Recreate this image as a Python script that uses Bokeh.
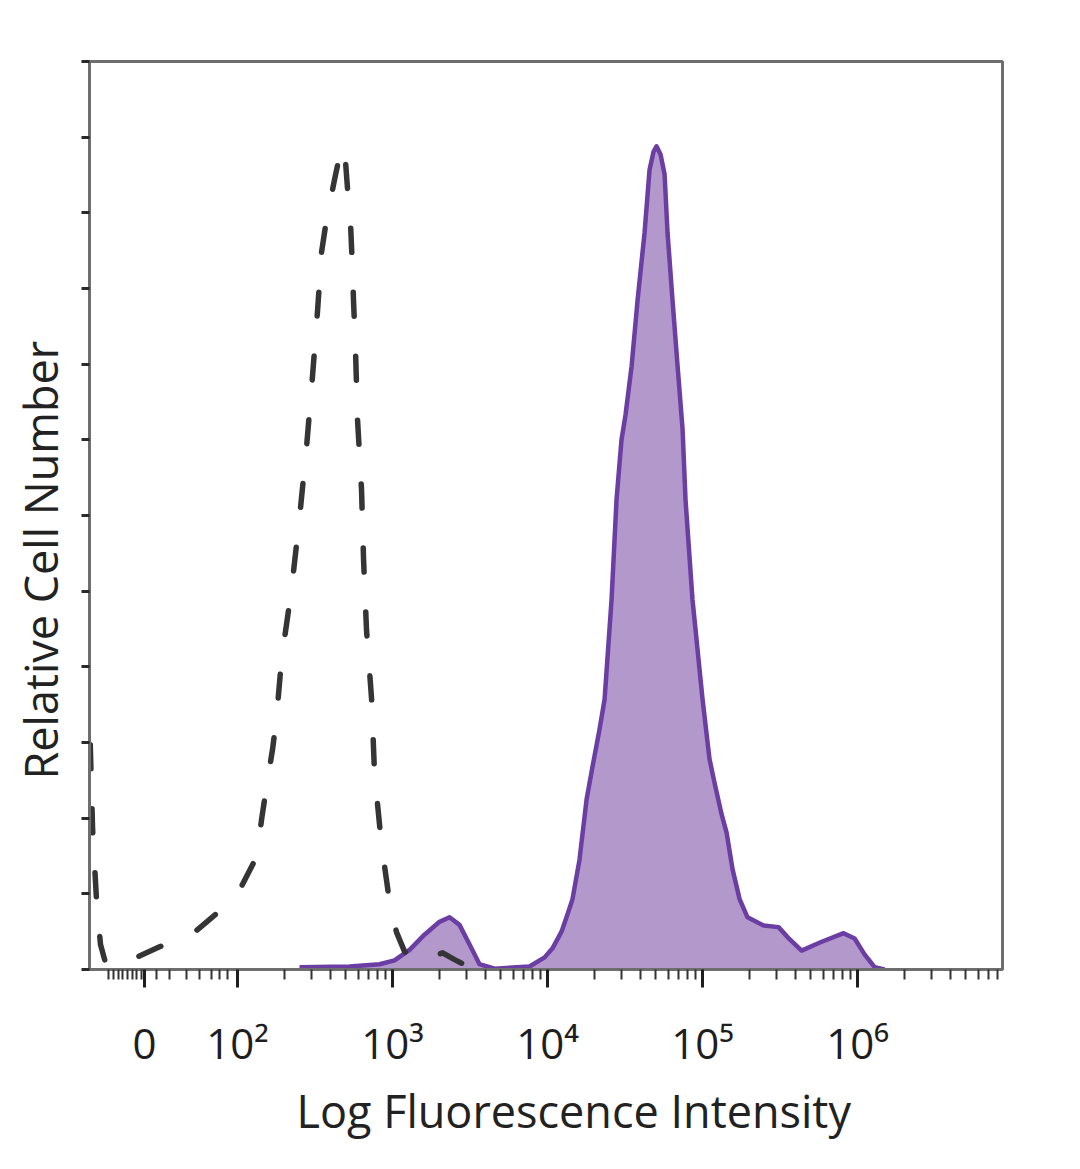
import math
from bokeh.plotting import figure
from bokeh.models import FixedTicker, Range1d, Title
from bokeh.embed import file_html
from bokeh.resources import INLINE

# Display coordinate on x: log10 of intensity (biexponential-like; "0" sits at 1.40)
ctrl_x = [1.05, 1.065, 1.09, 1.116, 1.148, 1.206, 1.271, 1.316, 1.497, 1.703, 1.871,
          2.026, 2.123, 2.155, 2.187, 2.226, 2.252, 2.284, 2.348, 2.400, 2.445, 2.484,
          2.516, 2.542, 2.574, 2.626, 2.671, 2.690, 2.710, 2.729, 2.742, 2.748, 2.761,
          2.774, 2.800, 2.813, 2.832, 2.865, 2.884, 2.929, 2.981, 3.026, 3.077, 3.142,
          3.206, 3.323, 3.400, 3.497, 3.626]
ctrl_y = [29.7, 18.5, 9.3, 3.3, 0.9, 0.3, 0.7, 1.3, 3.0, 4.6, 7.5,
          11.0, 14.9, 19.8, 24.2, 29.1, 33.4, 41.0, 50.2, 59.7, 69.0, 78.5,
          87.0, 94.8, 99.1, 104.4, 108.8, 108.6, 103.1, 98.5, 92.5, 88.5, 81.9,
          72.7, 63.4, 54.2, 44.9, 35.7, 25.8, 16.5, 8.9, 4.9, 2.4, 1.1,
          1.3, 2.2, 1.3, 0.3, 0.0]

stain_x = [2.400, 2.723, 2.916, 3.013, 3.110, 3.206, 3.303, 3.368, 3.432, 3.497, 3.561,
           3.658, 3.884, 3.981, 4.032, 4.090, 4.129, 4.161, 4.206, 4.252, 4.290, 4.335,
           4.368, 4.413, 4.445, 4.477, 4.503, 4.542, 4.581, 4.626, 4.658, 4.684, 4.703,
           4.729, 4.755, 4.774, 4.806, 4.839, 4.871, 4.890, 4.935, 5.000, 5.045, 5.077,
           5.123, 5.155, 5.194, 5.239, 5.290, 5.394, 5.490, 5.561, 5.639, 5.761, 5.910,
           5.981, 6.045, 6.110, 6.174]
stain_y = [0.3, 0.4, 0.7, 1.2, 2.6, 4.6, 6.3, 6.9, 5.9, 3.3, 0.7,
           0.1, 0.4, 1.6, 2.8, 5.0, 7.3, 9.3, 14.5, 22.5, 26.8, 31.7,
           35.7, 48.9, 62.1, 70.0, 73.3, 79.7, 88.5, 97.4, 105.7, 108.1, 108.8,
           107.7, 105.1, 97.4, 88.5, 79.7, 71.4, 62.1, 48.9, 35.7, 27.8, 24.7,
           20.5, 18.1, 13.2, 9.3, 6.9, 5.8, 5.6, 4.0, 2.5, 3.6, 4.8,
           4.1, 2.0, 0.3, 0.0]

x_major = [1.40, 2, 3, 4, 5, 6]
x_labels = ["0", "10²", "10³", "10⁴", "10⁵", "10⁶"]
x_minor_near_zero = [1.17, 1.20, 1.23, 1.26, 1.29, 1.32, 1.35, 1.38,
                     1.477, 1.561, 1.671, 1.755, 1.832, 1.884, 1.935]
y_ticks = [0, 10, 20, 30, 40, 50, 60, 70, 80, 90, 100, 110, 120]

X_MIN, X_MAX = 1.045, 6.935

minor = list(x_minor_near_zero)
for n in range(2, 7):
    for k in range(2, 10):
        v = n + math.log10(k)
        if v < X_MAX:
            minor.append(v)

p = figure(width=1071, height=1157,
           x_range=Range1d(X_MIN, X_MAX), y_range=Range1d(0, 120),
           output_backend="svg", toolbar_location=None,
           min_border_left=89, min_border_top=61,
           min_border_right=69, min_border_bottom=188)

p.xgrid.grid_line_color = None
p.ygrid.grid_line_color = None
p.outline_line_color = "#6e6e6e"
p.outline_line_width = 3
p.background_fill_color = "white"
p.border_fill_color = "white"

# stained sample (filled)
p.varea(x=stain_x, y1=[0] * len(stain_x), y2=stain_y, fill_color="#b398cc", fill_alpha=1.0)
p.line(stain_x, stain_y, line_color="#6a3ea3", line_width=4.5, line_join="round")
# isotype control (dashed)
p.line(ctrl_x, ctrl_y, line_color="#353535", line_width=5.5, line_dash="24 40",
       line_cap="round", line_join="round")

ax = p.xaxis[0]
ax.ticker = FixedTicker(ticks=x_major, minor_ticks=minor)
ax.major_label_overrides = {t: l for t, l in zip(x_major, x_labels)}
ax.axis_line_color = "#6e6e6e"
ax.axis_line_width = 3
ax.major_tick_in = 0
ax.major_tick_out = 18
ax.major_tick_line_width = 3
ax.major_tick_line_color = "#1e1e1e"
ax.minor_tick_in = 0
ax.minor_tick_out = 10
ax.minor_tick_line_width = 2
ax.minor_tick_line_color = "#333333"
ax.major_label_text_font = "Open Sans"
ax.major_label_text_font_size = "42px"
ax.major_label_text_color = "#1e1e1e"
ax.major_label_standoff = 26

ay = p.yaxis[0]
ay.ticker = FixedTicker(ticks=y_ticks, minor_ticks=[])
ay.axis_line_color = "#6e6e6e"
ay.axis_line_width = 3
ay.major_tick_in = 0
ay.major_tick_out = 8
ay.major_tick_line_width = 3
ay.major_tick_line_color = "#2a2a2a"
ay.minor_tick_line_color = None
ay.major_label_text_color = None
ay.major_label_standoff = 0

x_title = Title(text="Log Fluorescence Intensity", align="left", offset=207,
                vertical_align="top", standoff=12,
                text_font="Open Sans", text_font_size="45px",
                text_font_style="normal", text_color="#222222")
p.add_layout(x_title, "below")

y_title = Title(text="Relative Cell Number", align="left", offset=190,
                vertical_align="top", standoff=18,
                text_font="Open Sans", text_font_size="45px",
                text_font_style="normal", text_color="#222222")
p.add_layout(y_title, "left")

open("out.html", "w").write(file_html(p, INLINE))
